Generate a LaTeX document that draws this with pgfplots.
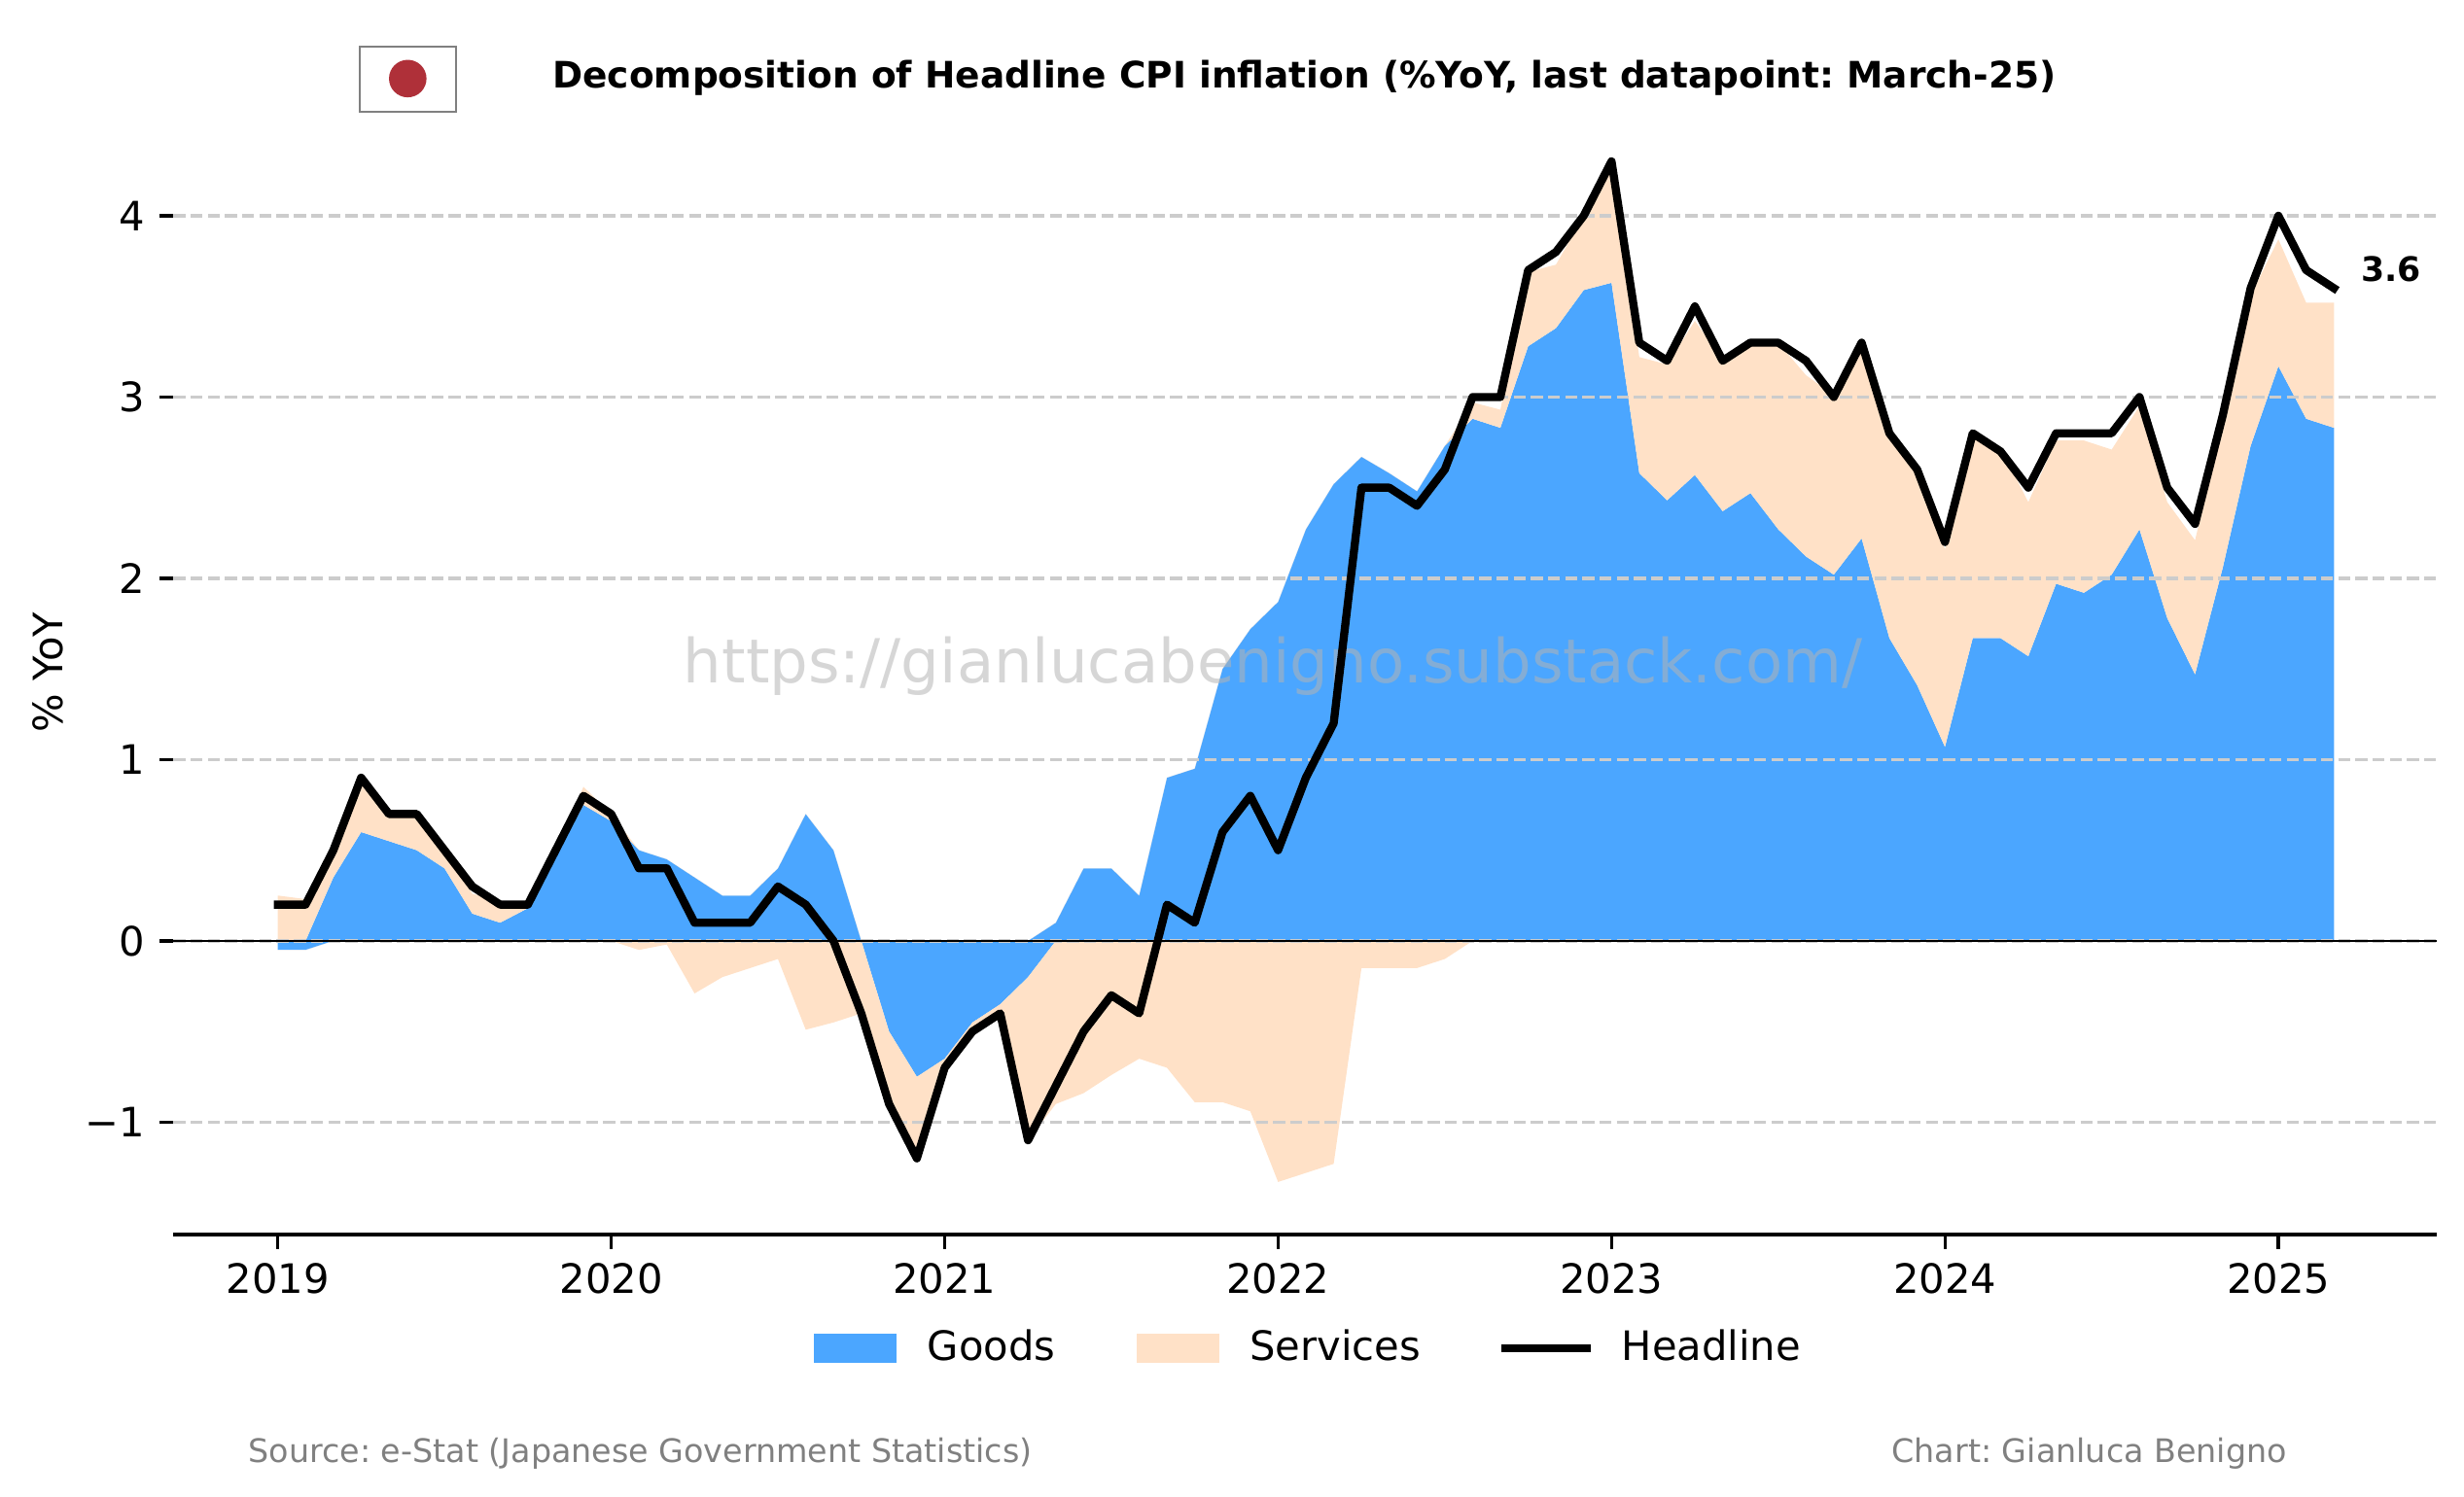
\documentclass[border=0pt]{standalone}
\usepackage{fontspec}
\setmainfont{DejaVu Sans}
\usepackage{pgfplots}
\usepackage{pgfplotstable}
\pgfplotsset{compat=1.18}
\usepgfplotslibrary{fillbetween}
\frenchspacing

\definecolor{goodsc}{RGB}{75,166,255}
\definecolor{servc}{RGB}{255,225,199}
\definecolor{gridc}{RGB}{204,204,204}
\definecolor{flagred}{RGB}{175,48,57}
\definecolor{wmc}{RGB}{180,180,180}
\definecolor{footc}{RGB}{128,128,128}

% k = months since Jan 2019; h = headline, g = goods, s = services (pp contributions)
\pgfplotstableread{
k h g s
0 0.2 -0.05 0.25
1 0.2 -0.05 0.23
2 0.5 0.35 0.15
3 0.9 0.60 0.30
4 0.7 0.55 0.15
5 0.7 0.50 0.20
6 0.5 0.40 0.10
7 0.3 0.15 0.11
8 0.2 0.10 0.12
9 0.2 0.18 0.02
10 0.5 0.47 0.03
11 0.8 0.75 0.10
12 0.7 0.66 0.04
13 0.4 0.50 -0.05
14 0.4 0.45 -0.02
15 0.1 0.35 -0.29
16 0.1 0.25 -0.20
17 0.1 0.25 -0.15
18 0.3 0.40 -0.10
19 0.2 0.70 -0.49
20 0.0 0.50 -0.45
21 -0.4 0.00 -0.40
22 -0.9 -0.50 -0.40
23 -1.2 -0.75 -0.45
24 -0.7 -0.65 -0.05
25 -0.5 -0.45 -0.05
26 -0.4 -0.35 -0.05
27 -1.1 -0.20 -0.90
28 -0.8 0.10 -0.90
29 -0.5 0.40 -0.84
30 -0.3 0.40 -0.74
31 -0.4 0.25 -0.65
32 0.2 0.90 -0.70
33 0.1 0.95 -0.89
34 0.6 1.50 -0.89
35 0.8 1.72 -0.94
36 0.5 1.87 -1.33
37 0.9 2.27 -1.28
38 1.2 2.52 -1.23
39 2.5 2.67 -0.15
40 2.5 2.58 -0.15
41 2.4 2.48 -0.15
42 2.6 2.73 -0.10
43 3.0 2.88 0.09
44 3.0 2.83 0.10
45 3.7 3.28 0.41
46 3.8 3.38 0.35
47 4.0 3.59 0.41
48 4.3 3.63 0.67
49 3.3 2.58 0.64
50 3.2 2.43 0.75
51 3.5 2.57 0.85
52 3.2 2.37 0.84
53 3.3 2.47 0.83
54 3.3 2.27 1.03
55 3.2 2.12 1.00
56 3.0 2.02 0.99
57 3.3 2.22 1.06
58 2.8 1.67 1.13
59 2.6 1.41 1.19
60 2.2 1.07 1.09
61 2.8 1.67 1.10
62 2.7 1.67 1.05
63 2.5 1.57 0.85
64 2.8 1.97 0.79
65 2.8 1.92 0.84
66 2.8 2.02 0.69
67 3.0 2.27 0.68
68 2.5 1.78 0.64
69 2.3 1.47 0.74
70 2.9 2.06 0.79
71 3.6 2.73 0.83
72 4.0 3.17 0.70
73 3.7 2.88 0.64
74 3.6 2.83 0.69
}\data

\begin{document}
\begin{tikzpicture}
\begin{axis}[
  at={(0pt,0pt)}, anchor=south west,
  scale only axis, width=558.6pt, height=277.5pt,
  xmin=-3.751, xmax=77.70, ymin=-1.62, ymax=4.58,
  clip=false,
  axis x line*=bottom, axis y line*=left,
  x axis line style={line width=0.8pt, black, -},
  y axis line style={draw=none},
  xtick={0,12,24,36,48,60,72},
  xticklabels={2019,2020,2021,2022,2023,2024,2025},
  ytick={-1,0,1,2,3,4},
  yticklabels={−1,0,1,2,3,4},
  tick align=outside, major tick length=3.5pt,
  tick style={line width=0.8pt, black},
  ticklabel style={font=\fontsize{10}{12}\selectfont},
  legend style={at={(0.501,-0.101)}, anchor=center, draw=none, fill=none,
    inner sep=0pt, font=\fontsize{10}{12}\selectfont,
    nodes={inner sep=0pt},
    /tikz/every odd column/.append style={column sep=7.6pt},
    /tikz/every even column/.append style={column sep=20pt}},
  legend columns=3,
]
\addplot[draw=none, forget plot, name path=zero] table[x=k, y expr=0] {\data};
\addplot[draw=none, forget plot, name path=gp] table[x=k, y expr={max(\thisrow{g},0)}] {\data};
\addplot[draw=none, forget plot, name path=gn] table[x=k, y expr={min(\thisrow{g},0)}] {\data};
\addplot[draw=none, forget plot, name path=tp] table[x=k, y expr={max(\thisrow{g},0)+max(\thisrow{s},0)}] {\data};
\addplot[draw=none, forget plot, name path=tn] table[x=k, y expr={min(\thisrow{g},0)+min(\thisrow{s},0)}] {\data};
\addplot[fill=goodsc, draw=none, forget plot] fill between[of=gp and zero];
\addplot[fill=goodsc, draw=none, forget plot] fill between[of=gn and zero];
\addplot[fill=servc, draw=none, forget plot] fill between[of=tp and gp];
\addplot[fill=servc, draw=none, forget plot] fill between[of=tn and gn];

\pgfplotsinvokeforeach{-1,0,1,2,3,4}{
  \draw[gridc, line width=0.8pt, dash pattern=on 2.96pt off 1.28pt]
    (axis cs:-3.751,#1) -- (axis cs:77.70,#1);
}
\draw[black, line width=0.5pt] (axis cs:-3.751,0) -- (axis cs:77.70,0);

\node[font=\fontsize{15}{18}\selectfont, text=wmc, text opacity=0.55,
  anchor=base, inner sep=0pt] at (axis cs:35.81,1.421)
  {https://gianlucabenigno.substack.com/};

\addplot[black, line width=2pt, line join=round, line cap=rect, forget plot]
  table[x=k, y=h] {\data};

\node[anchor=base west, inner sep=0pt, font=\fontsize{8.33}{10}\selectfont\bfseries]
  at (axis cs:74.95,3.636) {3.6};

\addlegendimage{legend image code/.code={\fill[goodsc] (0pt,-3.45pt) rectangle (20pt,3.45pt);}}
\addlegendentry{Goods}
\addlegendimage{legend image code/.code={\fill[servc] (0pt,-3.45pt) rectangle (20pt,3.45pt);}}
\addlegendentry{Services}
\addlegendimage{legend image code/.code={\draw[black, line width=2pt, line cap=rect] (0pt,0pt) -- (20pt,0pt);}}
\addlegendentry{Headline}
\end{axis}

% title and flag
\node[anchor=base, inner sep=0pt, font=\fontsize{9}{11}\selectfont\bfseries]
  at (279.1pt,283.0pt)
  {Decomposition of Headline CPI inflation (\%YoY, last datapoint: March-25)};
\draw[gray, line width=0.4pt, fill=white] (45.96pt,277.2pt) rectangle (69.65pt,293.35pt);
\fill[flagred] (57.8pt,285.4pt) circle (4.63pt);

% y label
\node[rotate=90, inner sep=0pt, font=\fontsize{10}{12}\selectfont]
  at (-31pt,138.75pt) {\% YoY};

% footer
\node[anchor=base west, inner sep=0pt, text=footc, font=\fontsize{8}{10}\selectfont]
  at (18.3pt,-56.2pt) {Source: e-Stat (Japanese Government Statistics)};
\node[anchor=base east, inner sep=0pt, text=footc, font=\fontsize{8}{10}\selectfont]
  at (521.8pt,-56.2pt) {Chart: Gianluca Benigno};

\pgfresetboundingbox
\path[use as bounding box] (-42.84pt,-64.8pt) rectangle (565.32pt,304.8pt);
\end{tikzpicture}
\end{document}
